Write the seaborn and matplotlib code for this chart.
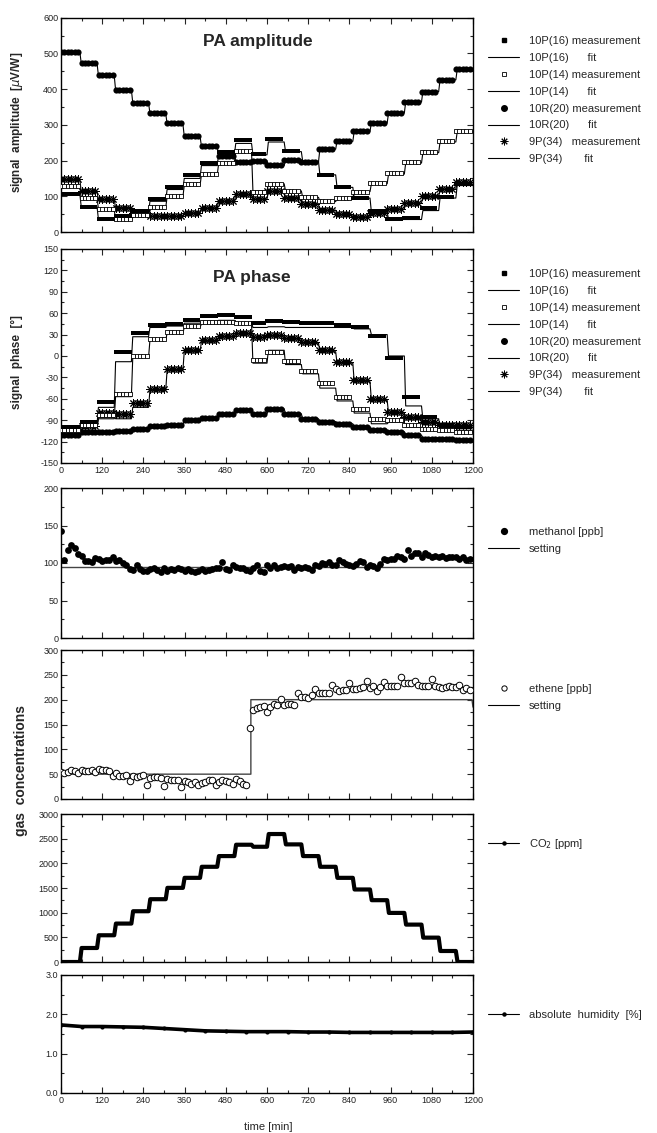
import numpy as np
import matplotlib
matplotlib.use("Agg")
import matplotlib.pyplot as plt
from matplotlib.lines import Line2D
from matplotlib.ticker import MultipleLocator
import seaborn as sns

# ---------------- data ----------------
# step edges of the CO2 programme [min]
step_edges = [0, 55, 105, 155, 205, 255, 305, 355, 405, 455, 505, 555, 600,
              650, 700, 750, 800, 850, 900, 950, 1000, 1050, 1100, 1150, 1200]

# PA amplitude (per CO2 step) [uV/W]
amp_10P16_meas = [106, 69, 37, 44, 58, 92, 127, 160, 194, 223, 258, 218, 260, 226,
                  195, 160, 127, 95, 60, 36, 38, 66, 99, 135]
amp_10P16_fit = [105, 70, 36, 34, 52, 86, 119, 150, 186, 216, 248, 216, 252, 225,
                 198, 160, 125, 95, 56, 35, 35, 60, 95, 130]
amp_10P14_meas = [128, 96, 65, 36, 48, 70, 100, 133, 161, 192, 227, 113, 134, 114,
                  98, 88, 96, 113, 138, 164, 195, 223, 254, 282]
amp_10P14_fit = [125, 97, 64, 32, 45, 68, 98, 130, 160, 190, 225, 115, 135, 115,
                 97, 85, 95, 113, 135, 162, 193, 222, 252, 280]
amp_10R20_meas = [505, 472, 440, 398, 361, 333, 305, 268, 240, 214, 196, 200, 187, 202,
                  195, 233, 254, 282, 305, 333, 365, 393, 426, 456]
amp_10R20_fit = [503, 472, 438, 398, 362, 332, 303, 268, 240, 214, 197, 200, 186, 202,
                 196, 232, 254, 282, 305, 333, 364, 393, 426, 455]
amp_9P34_meas = [148, 114, 91, 68, 54, 45, 45, 54, 68, 87, 105, 92, 114, 96,
                 77, 61, 49, 42, 54, 65, 82, 100, 121, 140]
amp_9P34_fit = [145, 113, 90, 68, 53, 44, 44, 53, 67, 86, 104, 92, 113, 96,
                77, 61, 48, 42, 53, 64, 81, 99, 120, 138]

# PA phase (per CO2 step) [deg]
ph_10P16_meas = [-100, -92, -64, 5, 32, 44, 45, 51, 56, 58, 55, 46, 49, 47,
                 46, 46, 44, 40, 28, -3, -58, -85, -97, -100]
ph_10P16_fit = [-102, -95, -72, -8, 27, 40, 42, 46, 49, 50, 47, 40, 41, 40,
                40, 40, 40, 38, 30, 0, -70, -88, -100, -104]
ph_10P14_meas = [-104, -97, -83, -53, 0, 24, 34, 42, 47, 48, 46, -5, 5, -7,
                 -21, -38, -57, -74, -89, -90, -97, -102, -104, -106]
ph_10P14_fit = [-106, -99, -88, -57, -2, 22, 32, 40, 45, 47, 45, -10, 8, -12,
                -25, -45, -63, -80, -95, -93, -100, -103, -105, -107]
ph_10R20_meas = [-111, -107, -106, -105, -102, -98, -97, -90, -87, -82, -76, -81, -74, -81,
                 -88, -92, -95, -99, -104, -106, -111, -116, -116, -118]
ph_10R20_fit = [-112, -108, -106, -105, -102, -98, -97, -90, -87, -82, -77, -81, -74, -81,
                -88, -92, -95, -99, -104, -106, -111, -115, -116, -118]
ph_9P34_meas = [-103, -98, -80, -82, -66, -46, -18, 8, 22, 28, 32, 27, 30, 25,
                20, 8, -8, -34, -60, -78, -86, -92, -97, -97]
ph_9P34_fit = [-106, -100, -86, -88, -72, -48, -20, 6, 20, 27, 31, 26, 28, 24,
               18, 6, -10, -36, -62, -80, -88, -94, -99, -100]

# measurement times [min]
t_meas = list(range(0, 1200, 10))

methanol = [143, 104, 117, 124, 120, 112, 109, 103, 103, 102,
            107, 106, 103, 104, 104, 108, 103, 104, 100, 97,
            92, 91, 97, 92, 90, 89, 92, 94, 91, 88,
            94, 90, 92, 91, 93, 92, 89, 92, 90, 88,
            90, 92, 89, 91, 92, 93, 94, 101, 92, 91,
            98, 95, 94, 94, 91, 89, 94, 98, 90, 88,
            97, 93, 98, 93, 95, 96, 95, 96, 91, 95,
            94, 95, 93, 91, 97, 96, 100, 99, 101, 98,
            98, 104, 102, 99, 98, 96, 99, 103, 102, 95,
            98, 96, 93, 99, 106, 104, 106, 105, 109, 108,
            106, 117, 110, 114, 113, 108, 113, 111, 108, 110,
            108, 109, 107, 108, 108, 108, 105, 108, 104, 106]
methanol_set_t = [0, 1200]
methanol_set_v = [95, 95]

ethene = [55, 52, 54, 58, 57, 52, 58, 57, 56, 58,
          54, 61, 58, 58, 57, 47, 52, 47, 46, 48,
          37, 47, 45, 46, 49, 28, 42, 44, 44, 43,
          27, 40, 39, 39, 38, 24, 37, 34, 31, 34,
          28, 33, 35, 38, 38, 29, 35, 39, 36, 35,
          30, 40, 36, 31, 28, 142, 180, 183, 186, 187,
          176, 186, 191, 190, 201, 189, 192, 191, 189, 214,
          205, 205, 203, 209, 222, 214, 214, 214, 214, 229,
          221, 218, 219, 219, 234, 222, 222, 223, 226, 237,
          224, 227, 217, 226, 236, 228, 228, 228, 228, 246,
          234, 234, 234, 238, 230, 228, 228, 228, 241, 228,
          226, 224, 225, 227, 226, 225, 229, 219, 223, 220]
ethene_set_t = [0, 553, 553, 1197, 1200]
ethene_set_v = [50, 50, 200, 200, 185]

co2_levels = [0, 284, 542, 779, 1029, 1273, 1503, 1706, 1930, 2147, 2377, 2336, 2594,
              2384, 2147, 1930, 1706, 1470, 1253, 995, 758, 494, 223, 0]

hum_t = [0, 60, 120, 180, 240, 300, 360, 420, 480, 540, 600, 660, 720, 780, 840,
         900, 960, 1020, 1080, 1140, 1200]
hum_v = [1.73, 1.69, 1.69, 1.68, 1.67, 1.64, 1.61, 1.58, 1.57, 1.56, 1.56, 1.56,
         1.55, 1.55, 1.54, 1.54, 1.54, 1.54, 1.54, 1.54, 1.55]

# ---------------- helpers ----------------
edges = np.array(step_edges)
t_arr = np.array(t_meas)
step_idx = np.searchsorted(edges, t_arr, side="right") - 1


def per_point(levels):
    return np.asarray(levels, dtype=float)[step_idx]


def step_line(levels, rise=4):
    xs, ys = [], []
    for k, v in enumerate(levels):
        xs += [edges[k] + (rise if k > 0 else 0), edges[k + 1]]
        ys += [v, v]
    return np.array(xs), np.array(ys)


# ---------------- style ----------------
sns.set_style("ticks")
plt.rcParams["font.family"] = ["Liberation Sans", "DejaVu Sans"]
plt.rcParams["axes.linewidth"] = 1.0
plt.rcParams["axes.unicode_minus"] = False

W, H = 657, 1133
fig = plt.figure(figsize=(W / 100, H / 100), dpi=100)


def make_ax(top, bottom):
    return fig.add_axes([61 / W, 1 - bottom / H, 412 / W, (bottom - top) / H])


def style_ax(ax, ymin, ymax, ymaj, ymin_step, xlabels=False, fmt=None):
    ax.set_xlim(0, 1200)
    ax.set_ylim(ymin, ymax)
    ax.xaxis.set_major_locator(MultipleLocator(120))
    ax.xaxis.set_minor_locator(MultipleLocator(60))
    ax.yaxis.set_major_locator(MultipleLocator(ymaj))
    ax.yaxis.set_minor_locator(MultipleLocator(ymin_step))
    ax.tick_params(which="both", direction="in", top=True, right=True,
                   labelsize=6.5, labelcolor="#222222", width=0.8, pad=2)
    ax.tick_params(which="major", length=4.5)
    ax.tick_params(which="minor", length=2.5)
    if not xlabels:
        ax.tick_params(axis="x", labelbottom=False)
    if fmt:
        ax.yaxis.set_major_formatter(plt.FormatStrFormatter(fmt))
    ax.set_xlabel("")
    ax.set_ylabel("")
    for s in ax.spines.values():
        s.set_color("black")
        s.set_linewidth(1.0)


FS_LEG = 8
STAR = (8, 2, 0)


def legend(ax, handles, labels, top_px):
    ax.legend(handles, labels, loc="upper left",
              bbox_to_anchor=(488 / W, 1 - top_px / H), bbox_transform=fig.transFigure,
              frameon=False, fontsize=FS_LEG, handlelength=2.8, handletextpad=0.9,
              labelspacing=0.62, borderpad=0, borderaxespad=0)


def draw_series(ax, meas, fit, kind):
    xf, yf = step_line(fit)
    sns.lineplot(x=xf, y=yf, ax=ax, color="black", lw=0.8, estimator=None,
                 sort=False, legend=False)
    y = per_point(meas)
    if kind == "fsq":
        sns.scatterplot(x=t_arr, y=y, ax=ax, marker="s", s=7, color="black",
                        linewidth=0, legend=False, zorder=3)
    elif kind == "osq":
        sns.scatterplot(x=t_arr, y=y, ax=ax, marker="s", s=11, color="white",
                        edgecolor="black", linewidth=0.6, legend=False, zorder=3)
    elif kind == "circ":
        sns.scatterplot(x=t_arr, y=y, ax=ax, marker="o", s=20, color="black",
                        linewidth=0, legend=False, zorder=3)
    elif kind == "star":
        sns.scatterplot(x=t_arr, y=y, ax=ax, marker=STAR, s=30, color="black",
                        edgecolor="black", linewidth=0.7, legend=False, zorder=3)


pa_handles = [
    Line2D([], [], ls="none", marker="s", color="black", markersize=2.6),
    Line2D([], [], color="black", lw=0.8),
    Line2D([], [], ls="none", marker="s", markerfacecolor="white",
           markeredgecolor="black", markersize=3.2, markeredgewidth=0.6),
    Line2D([], [], color="black", lw=0.8),
    Line2D([], [], ls="none", marker="o", color="black", markersize=4),
    Line2D([], [], color="black", lw=0.8),
    Line2D([], [], ls="none", marker=STAR, color="black", markersize=5.5,
           markeredgewidth=0.7),
    Line2D([], [], color="black", lw=0.8),
]
pa_labels = ["10P(16) measurement", "10P(16)      fit",
             "10P(14) measurement", "10P(14)      fit",
             "10R(20) measurement", "10R(20)      fit",
             "9P(34)   measurement", "9P(34)       fit"]

# ---- panel 1: amplitude ----
ax1 = make_ax(17.7, 232)
draw_series(ax1, amp_10R20_meas, amp_10R20_fit, "circ")
draw_series(ax1, amp_9P34_meas, amp_9P34_fit, "star")
draw_series(ax1, amp_10P14_meas, amp_10P14_fit, "osq")
draw_series(ax1, amp_10P16_meas, amp_10P16_fit, "fsq")
style_ax(ax1, 0, 600, 100, 50)
ax1.text(0.478, 0.887, "PA amplitude", transform=ax1.transAxes, ha="center", va="center",
         fontsize=12.5, fontweight="bold")
legend(ax1, pa_handles, pa_labels, 36)

# ---- panel 2: phase ----
ax2 = make_ax(249, 463)
draw_series(ax2, ph_10R20_meas, ph_10R20_fit, "circ")
draw_series(ax2, ph_9P34_meas, ph_9P34_fit, "star")
draw_series(ax2, ph_10P14_meas, ph_10P14_fit, "osq")
draw_series(ax2, ph_10P16_meas, ph_10P16_fit, "fsq")
style_ax(ax2, -150, 150, 30, 15, xlabels=True)
ax2.text(0.464, 0.869, "PA phase", transform=ax2.transAxes, ha="center", va="center",
         fontsize=12.5, fontweight="bold")
legend(ax2, pa_handles, pa_labels, 269)

# ---- panel 3: methanol ----
ax3 = make_ax(488, 638)
sns.lineplot(x=methanol_set_t, y=methanol_set_v, ax=ax3, color="#444444", lw=1.0,
             estimator=None, legend=False)
sns.scatterplot(x=t_meas, y=methanol, ax=ax3, marker="o", s=24, color="black",
                linewidth=0, legend=False, zorder=3)
style_ax(ax3, 0, 200, 50, 25)
legend(ax3, [Line2D([], [], ls="none", marker="o", color="black", markersize=4.2),
             Line2D([], [], color="black", lw=0.8)],
       ["methanol [ppb]", "setting"], 527)

# ---- panel 4: ethene ----
ax4 = make_ax(650, 799)
sns.lineplot(x=ethene_set_t, y=ethene_set_v, ax=ax4, color="#444444", lw=1.0,
             estimator=None, sort=False, legend=False)
sns.scatterplot(x=t_meas, y=ethene, ax=ax4, marker="o", s=22, color="white",
                edgecolor="black", linewidth=0.7, legend=False, zorder=3)
style_ax(ax4, 0, 300, 50, 25)
legend(ax4, [Line2D([], [], ls="none", marker="o", markerfacecolor="white",
                    markeredgecolor="black", markersize=3.8, markeredgewidth=0.7),
             Line2D([], [], color="black", lw=0.8)],
       ["ethene [ppb]", "setting"], 684)

# ---- panel 5: CO2 ----
ax5 = make_ax(814, 962)
xc, yc = step_line(co2_levels, rise=5)
sns.lineplot(x=xc, y=yc, ax=ax5, color="black", lw=3.0, estimator=None, sort=False,
             legend=False)
style_ax(ax5, 0, 3000, 500, 250)
legend(ax5, [Line2D([], [], color="black", lw=0.8, marker="o", markersize=2.2)],
       ["CO$_2$ [ppm]"], 837)

# ---- panel 6: humidity ----
ax6 = make_ax(975, 1093)
sns.lineplot(x=hum_t, y=hum_v, ax=ax6, color="black", lw=2.6, estimator=None,
             legend=False, marker="o", markersize=3, markeredgewidth=0)
style_ax(ax6, 0, 3, 1.0, 0.5, xlabels=True, fmt="%.1f")
legend(ax6, [Line2D([], [], color="black", lw=0.8, marker="o", markersize=2.2)],
       ["absolute  humidity  [%]"], 1010)

# ---- axis labels ----
fig.text(17 / W, 1 - 122 / H, "signal  amplitude  [$\\mu$V/W]", rotation=90,
         ha="center", va="center", fontsize=8.5, fontweight="bold")
fig.text(17 / W, 1 - 362 / H, "signal  phase  [°]", rotation=90,
         ha="center", va="center", fontsize=8.5, fontweight="bold")
fig.text(21 / W, 1 - 770 / H, "gas  concentrations", rotation=90,
         ha="center", va="center", fontsize=10, fontweight="bold")
fig.text(268 / W, 1 - 1127 / H, "time [min]", ha="center", va="center", fontsize=8)

fig.savefig("out.png", dpi=100)
